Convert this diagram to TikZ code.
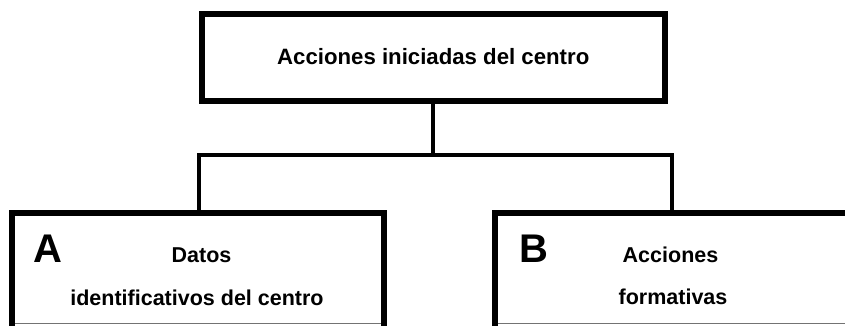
\documentclass[tikz,border=0pt]{standalone}
\usepackage{fontspec}
\setmainfont{Liberation Sans}
\begin{document}
\begin{tikzpicture}[x=1pt,y=-1pt,
  box/.style={draw=black, line width=6pt, fill=white, inner sep=0pt},
  conn/.style={draw=black, line width=4pt},
  txtfont/.style={font=\bfseries\fontsize{21.5}{26}\selectfont},
  topfont/.style={font=\bfseries\fontsize{22.2}{26}\selectfont},
  lbl/.style={txtfont, inner sep=0pt, anchor=base},
  big/.style={font=\bfseries\fontsize{40}{44}\selectfont, inner sep=0pt, anchor=base west},
  cutline/.style={draw=black!55, line width=1.2pt}]
\useasboundingbox (0,0) rectangle (845,325);
\clip (0,0) rectangle (845,325);
\fill[white] (0,0) rectangle (845,325);

% boxes
\node[box, topfont, minimum width=462.5pt, minimum height=87pt] (top) at (433.25,57) {Acciones iniciadas del centro};
\node[box, minimum width=372pt, minimum height=147pt] (A) at (198,286.5) {};
\node[box, minimum width=405.5pt, minimum height=147pt] (B) at (697.25,286.5) {};

% connectors
\coordinate (jA) at (199,155);
\coordinate (jB) at (672,155);
\coordinate (jT) at (top.south |- jA);
\draw[conn] (top.south) -- (jT);
\draw[conn, line cap=rect] (jA) -- (jB);
\draw[conn] (jA) -- (jA |- A.north);
\draw[conn] (jB) -- (jB |- B.north);

% bottom cut edges
\draw[cutline] (15,323.5) -- (381,323.5);
\draw[cutline] (497.5,323.5) -- (845,323.5);

% texts
\node[big] (Aletter) at (33,262) {A};
\node[lbl] (Adatos) at (201.5,262) {Datos};
\node[lbl] (Aid) at (197,305) {identificativos del centro};
\node[big] (Bletter) at (519,262) {B};
\node[lbl] (Bacc) at (670.5,262) {Acciones};
\node[lbl] (Bform) at (673,304) {formativas};
\end{tikzpicture}
\end{document}
